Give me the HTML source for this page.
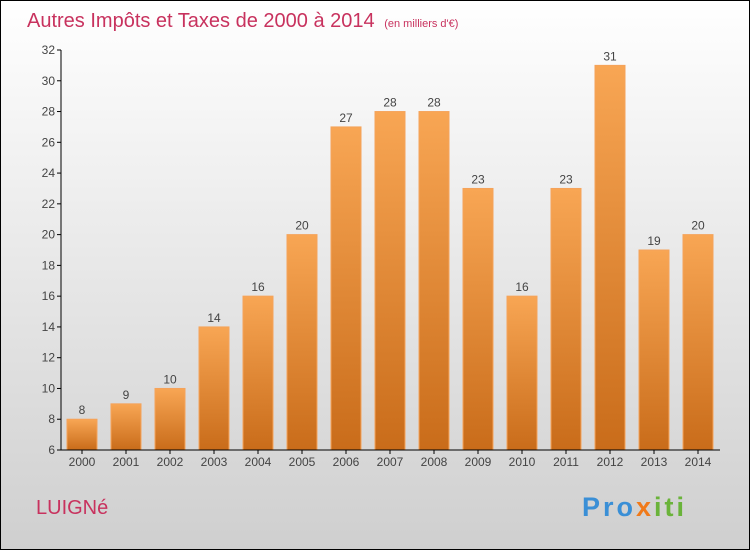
<!DOCTYPE html>
<html><head><meta charset="utf-8"><style>
body{margin:0}
svg text{font-family:"Liberation Sans",sans-serif}
</style></head><body>
<svg width="750" height="550" viewBox="0 0 750 550" xmlns="http://www.w3.org/2000/svg">
<defs>
<linearGradient id="bg" x1="0" y1="0" x2="0" y2="1"><stop offset="0" stop-color="#ffffff"/><stop offset="1" stop-color="#cfcfcf"/></linearGradient>
<linearGradient id="bar" x1="0" y1="0" x2="0" y2="1"><stop offset="0" stop-color="#f8a654"/><stop offset="1" stop-color="#c96c1a"/></linearGradient>
</defs>
<rect x="0.5" y="0.5" width="749" height="549" fill="url(#bg)" stroke="#000"/>
<text x="27" y="27" font-size="20" fill="#c8325e">Autres Impôts et Taxes de 2000 à 2014 <tspan font-size="11" dx="4">(en milliers d'€)</tspan></text>
<text x="36" y="514" font-size="20" fill="#c8325e">LUIGNé</text>
<text x="582" y="516" font-size="27" font-weight="bold" letter-spacing="3"><tspan fill="#3a8fd6">Pro</tspan><tspan fill="#f07a1a">x</tspan><tspan fill="#6ab33a">iti</tspan></text>
<g id="plot"></g>
</svg>
<script>
const years=["2000","2001","2002","2003","2004","2005","2006","2007","2008","2009","2010","2011","2012","2013","2014"];
const values=[8,9,10,14,16,20,27,28,28,23,16,23,31,19,20];
const yTicks=[6,8,10,12,14,16,18,20,22,24,26,28,30,32];
const NS="http://www.w3.org/2000/svg";
const g=document.getElementById('plot');
const y=v=>450-(v-6)*400/26;
const x=i=>82+i*44;
function el(t,a,p){const e=document.createElementNS(NS,t);for(const k in a)e.setAttribute(k,a[k]);(p||g).appendChild(e);return e;}
yTicks.forEach(t=>{
 const l=el('line',{x1:57,x2:61,y1:y(t),y2:y(t),stroke:'#000'});
 
 
 const tx=el('text',{x:55,y:y(t)+4,'text-anchor':'end','font-size':12,fill:'#444'});
 tx.textContent=t;
 
 
});
years.forEach((yr,i)=>{
 const v=values[i];
 const b=el('rect',{x:x(i)-15,y:y(v),width:30,height:450-y(v),fill:'url(#bar)',stroke:'#f5a35a','stroke-width':1});
 
 
 const vl=el('text',{x:x(i),y:y(v)-5,'text-anchor':'middle','font-size':12,fill:'#444'});
 vl.textContent=v;
 
 
 const tk=el('line',{x1:x(i),x2:x(i),y1:450,y2:454,stroke:'#000'});
 
 
 const xl=el('text',{x:x(i),y:466,'text-anchor':'middle','font-size':12,fill:'#444'});
 xl.textContent=yr;
 
 
});
const ya=el('line',{x1:61,x2:61,y1:50,y2:450,stroke:'#000'});


const xa=el('line',{x1:61,x2:720,y1:450,y2:450,stroke:'#000'});


</script>
</body></html>
